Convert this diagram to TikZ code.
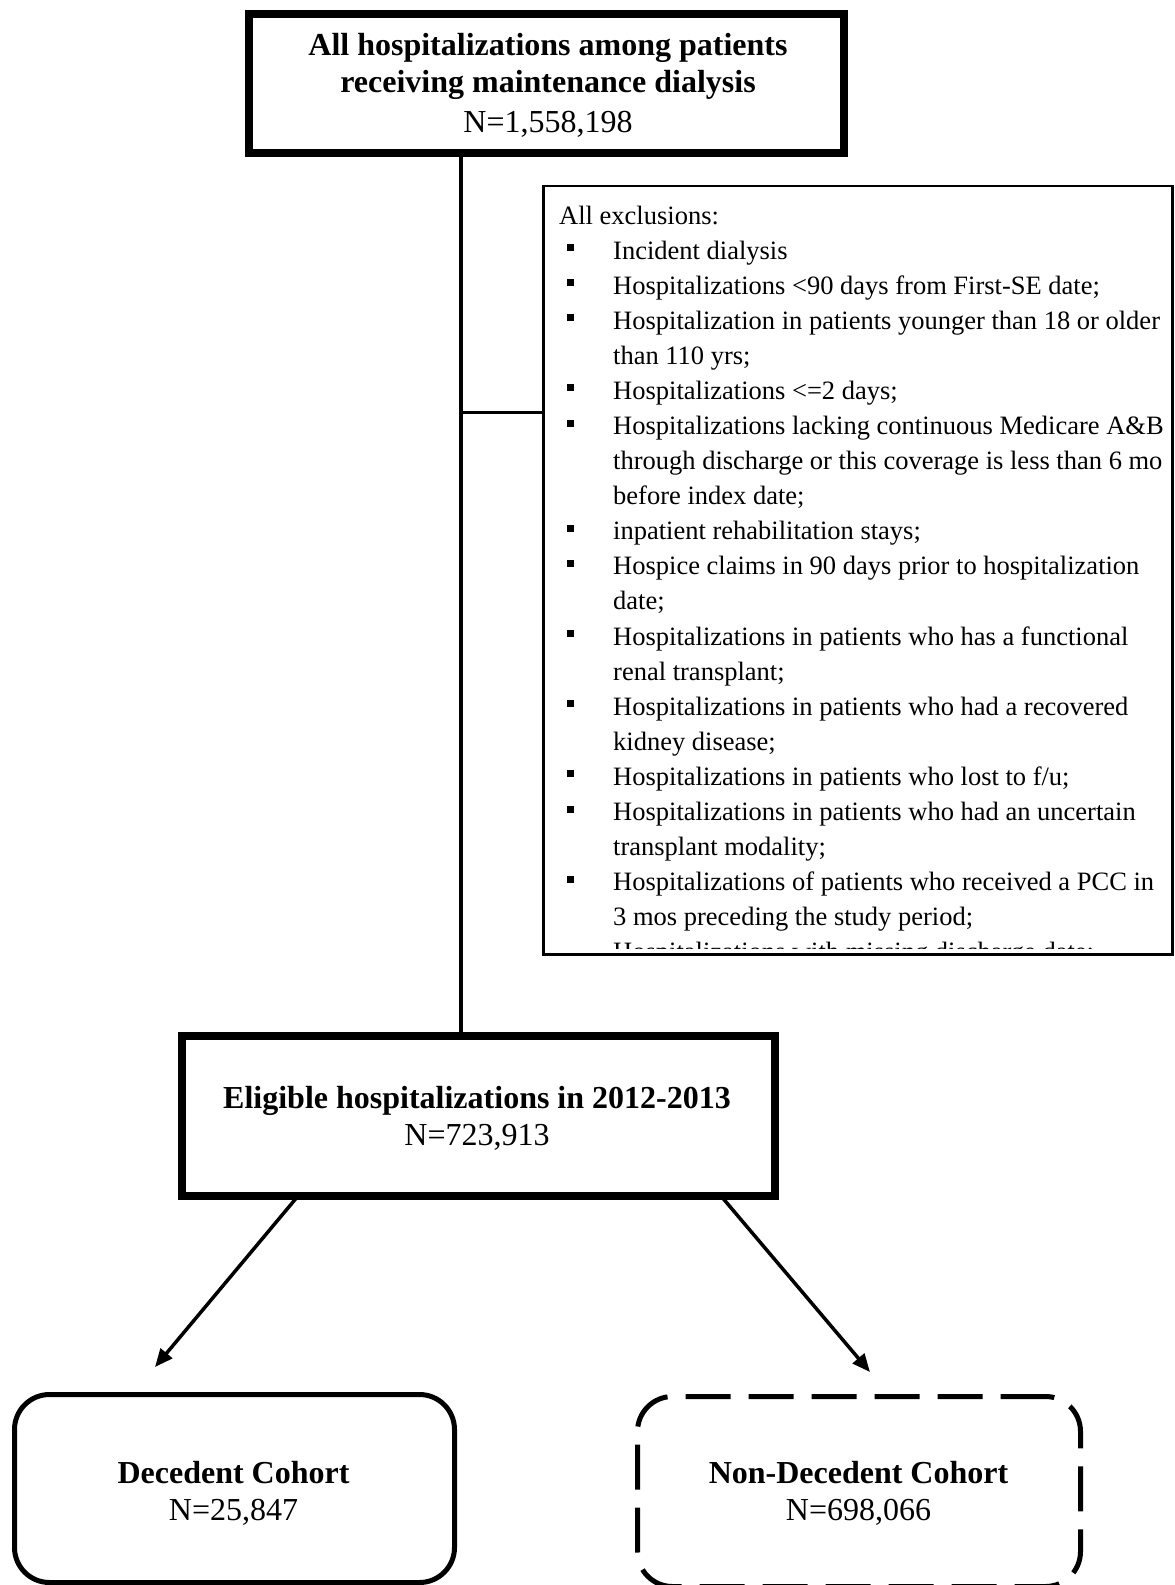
\documentclass[tikz,border=0pt]{standalone}
\usepackage{fontspec}
\setmainfont{Liberation Serif}
\usetikzlibrary{arrows.meta,calc}
\begin{document}
\begin{tikzpicture}[x=1pt,y=-1pt,
  bigbox/.style={draw,line width=8pt,outer sep=0pt,inner sep=0pt},
  cohort/.style={draw,line width=5pt,rounded corners=35pt,outer sep=0pt,inner sep=0pt},
  head/.style={anchor=base,inner sep=0pt,font=\fontsize{32}{37}\selectfont\bfseries},
  count/.style={anchor=base,inner sep=0pt,font=\fontsize{32}{37}\selectfont},
  exbox/.style={draw,line width=2.5pt,outer sep=0pt,inner sep=0pt},
  extext/.style={anchor=base west,inner sep=0pt,font=\fontsize{26.5}{35}\selectfont},
  link/.style={line width=3.5pt},
  arr/.style={line width=3.5pt,-{Triangle[length=18pt,width=15pt]}}]
\useasboundingbox (0,0) rectangle (1175,1585);
% main boxes
\node[bigbox,minimum width=595pt,minimum height=139pt] (top) at (546.5,83.5) {};
\node[head]  (top1) at (548,55)  {All hospitalizations among patients};
\node[head]  (top2) at (548,92)  {receiving maintenance dialysis};
\node[count] (top3) at (548,132) {N=1,558,198};
\node[bigbox,minimum width=593pt,minimum height=160pt] (elig) at (478.5,1116) {};
\node[head]  (elig1) at (477,1108) {Eligible hospitalizations in 2012-2013};
\node[count] (elig2) at (477,1145) {N=723,913};
% exclusion box
\node[exbox,minimum width=629pt,minimum height=768.5pt] (ex) at (857.75,570.25) {};
\begin{scope}
  \clip ($(ex.north west)+(1.25,1.25)$) rectangle ($(ex.east |- 0,948.5)+(-1.25,0)$);
  \node[extext] (ex0) at (559,224) {All exclusions:};
  \foreach \i/\b/\t in {
    1/1/{Incident dialysis},
    2/1/{Hospitalizations <90 days from First-SE date;},
    3/1/{Hospitalization in patients younger than 18 or older},
    4/0/{than 110 yrs;},
    5/1/{Hospitalizations <=2 days;},
    6/1/{Hospitalizations lacking continuous Medicare A\&B},
    7/0/{through discharge or this coverage is less than 6 mo},
    8/0/{before index date;},
    9/1/{inpatient rehabilitation stays;},
    10/1/{Hospice claims in 90 days prior to hospitalization},
    11/0/{date;},
    12/1/{Hospitalizations in patients who has a functional},
    13/0/{renal transplant;},
    14/1/{Hospitalizations in patients who had a recovered},
    15/0/{kidney disease;},
    16/1/{Hospitalizations in patients who lost to f/u;},
    17/1/{Hospitalizations in patients who had an uncertain},
    18/0/{transplant modality;},
    19/1/{Hospitalizations of patients who received a PCC in},
    20/0/{3 mos preceding the study period;},
    21/0/{Hospitalizations with missing discharge date;}}{
    \pgfmathsetmacro\yy{224+35.09*\i}
    \node[extext] (ex\i) at (613,\yy) {\t};
    \ifnum\b=1 \fill (566.5,\yy-15) rectangle ++(7,7); \fi
  }
\end{scope}
% connectors
\coordinate (vx) at (460.5,0);
\draw[line width=4pt] (vx |- top.south) -- (vx |- elig.north);
\coordinate (br) at (460.5,412.5);
\draw[link] (br) -- (br -| ex.west);
% cohorts
\node[cohort,minimum width=440pt,minimum height=188pt] (dec) at (234.5,1488.5) {};
\node[head]  (dec1) at (233.5,1483) {Decedent Cohort};
\node[count] (dec2) at (233.5,1520) {N=25,847};
\node[cohort,dash pattern=on 45pt off 18pt,minimum width=443pt,minimum height=190pt] (non) at (859,1491.5) {};
\node[head]  (non1) at (858.5,1483) {Non-Decedent Cohort};
\node[count] (non2) at (858.5,1520) {N=698,066};
\coordinate (tipL) at (155,1367);
\coordinate (tipR) at (870,1372);
\draw[arr] ($(elig.south west)+(116,0)$) -- (tipL);
\draw[arr] ($(elig.south east)+(-54,0)$) -- (tipR);
\end{tikzpicture}
\end{document}
